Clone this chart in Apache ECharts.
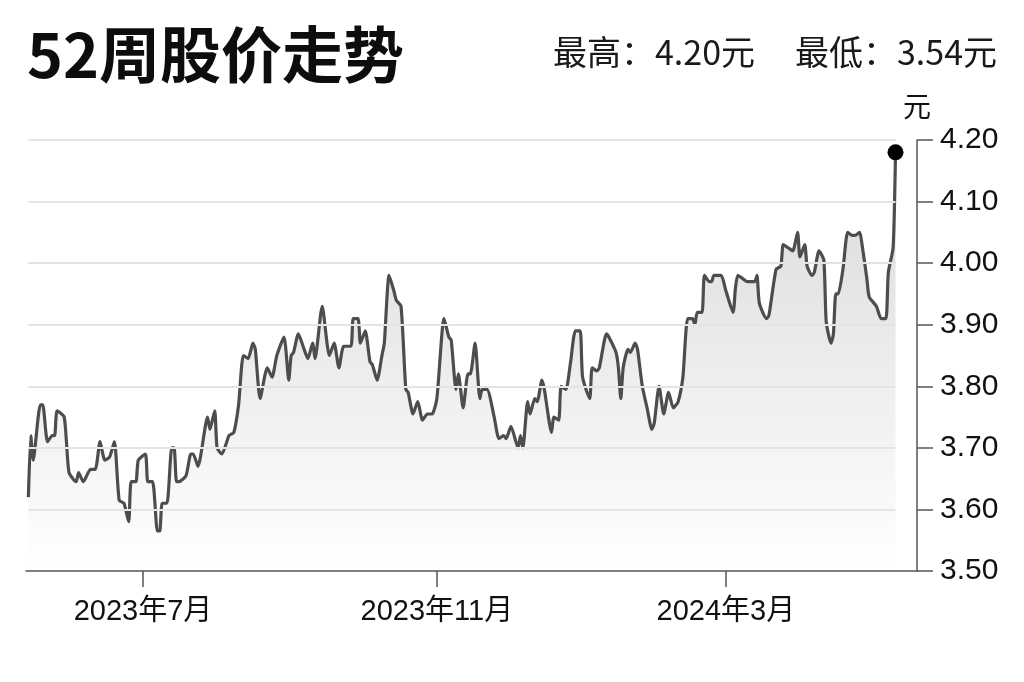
<!DOCTYPE html>
<html>
<head>
<meta charset="utf-8">
<title>52周股价走势</title>
<script src="https://cdn.jsdelivr.net/npm/echarts@6/dist/echarts.min.js"></script>
<style>
  html, body { margin: 0; padding: 0; background: #fff; }
  #chart { width: 1024px; height: 682px; }
</style>
</head>
<body>
<div id="chart"></div>
<script>
// 交易日
var dates = [
  '2023-05-14','2023-05-15','2023-05-16','2023-05-19','2023-05-20','2023-05-22','2023-05-24','2023-05-25','2023-05-26','2023-05-29',
  '2023-05-31','2023-06-03','2023-06-04','2023-06-06','2023-06-09','2023-06-11','2023-06-13','2023-06-15','2023-06-17','2023-06-19',
  '2023-06-21','2023-06-23','2023-06-25','2023-06-26','2023-06-28','2023-06-29','2023-07-02','2023-07-03','2023-07-05','2023-07-07',
  '2023-07-08','2023-07-09','2023-07-11','2023-07-13','2023-07-14','2023-07-15','2023-07-16','2023-07-19','2023-07-21','2023-07-22',
  '2023-07-24','2023-07-28','2023-07-29','2023-07-31','2023-08-01','2023-08-03','2023-08-06','2023-08-08','2023-08-10','2023-08-12',
  '2023-08-14','2023-08-16','2023-08-17','2023-08-19','2023-08-22','2023-08-24','2023-08-26','2023-08-29','2023-08-31','2023-09-01',
  '2023-09-02','2023-09-04','2023-09-06','2023-09-08','2023-09-10','2023-09-11','2023-09-14','2023-09-17','2023-09-19','2023-09-21',
  '2023-09-23','2023-09-26','2023-09-27','2023-09-29','2023-09-30','2023-10-02','2023-10-04','2023-10-05','2023-10-07','2023-10-09',
  '2023-10-10','2023-10-12','2023-10-14','2023-10-15','2023-10-17','2023-10-19','2023-10-20','2023-10-22','2023-10-24','2023-10-26',
  '2023-10-28','2023-10-30','2023-11-01','2023-11-04','2023-11-06','2023-11-07','2023-11-09','2023-11-10','2023-11-12','2023-11-14',
  '2023-11-15','2023-11-17','2023-11-19','2023-11-20','2023-11-22','2023-11-25','2023-11-27','2023-11-29','2023-11-30','2023-12-02',
  '2023-12-05','2023-12-06','2023-12-07','2023-12-09','2023-12-10','2023-12-12','2023-12-13','2023-12-15','2023-12-16','2023-12-19',
  '2023-12-20','2023-12-22','2023-12-23','2023-12-25','2023-12-27','2023-12-29','2023-12-31','2024-01-01','2024-01-04','2024-01-05',
  '2024-01-07','2024-01-08','2024-01-11','2024-01-12','2024-01-15','2024-01-16','2024-01-17','2024-01-18','2024-01-20','2024-01-21',
  '2024-01-23','2024-01-24','2024-01-26','2024-01-28','2024-01-30','2024-01-31','2024-02-02','2024-02-04','2024-02-06','2024-02-08',
  '2024-02-10','2024-02-12','2024-02-14','2024-02-16','2024-02-17','2024-02-18','2024-02-20','2024-02-21','2024-02-23','2024-02-24',
  '2024-02-25','2024-02-28','2024-03-01','2024-03-04','2024-03-05','2024-03-06','2024-03-08','2024-03-10','2024-03-13','2024-03-14',
  '2024-03-15','2024-03-18','2024-03-19','2024-03-22','2024-03-24','2024-03-25','2024-03-27','2024-03-29','2024-03-31','2024-04-01',
  '2024-04-03','2024-04-04','2024-04-06','2024-04-07','2024-04-09','2024-04-11','2024-04-12','2024-04-14','2024-04-15','2024-04-16',
  '2024-04-17','2024-04-19','2024-04-21','2024-04-23','2024-04-24','2024-04-26','2024-04-27','2024-04-29','2024-04-30','2024-05-03',
  '2024-05-05','2024-05-07','2024-05-08','2024-05-10','2024-05-11'
];

// 收盘价（元）
var prices = [
  3.62, 3.72, 3.68, 3.77, 3.77, 3.71, 3.72, 3.72, 3.76, 3.75,
  3.66, 3.645, 3.66, 3.645, 3.665, 3.665, 3.71, 3.68, 3.685, 3.71,
  3.615, 3.61, 3.58, 3.645, 3.645, 3.68, 3.69, 3.645, 3.645, 3.565,
  3.565, 3.61, 3.61, 3.70, 3.70, 3.645, 3.645, 3.655, 3.69, 3.69,
  3.67, 3.75, 3.73, 3.76, 3.70, 3.69, 3.72, 3.725, 3.77, 3.85,
  3.845, 3.87, 3.86, 3.78, 3.83, 3.815, 3.85, 3.88, 3.81, 3.85,
  3.855, 3.885, 3.865, 3.845, 3.87, 3.845, 3.93, 3.85, 3.87, 3.83,
  3.865, 3.865, 3.91, 3.91, 3.87, 3.89, 3.84, 3.835, 3.81, 3.85,
  3.87, 3.98, 3.955, 3.94, 3.93, 3.795, 3.79, 3.755, 3.775, 3.745,
  3.755, 3.755, 3.78, 3.91, 3.88, 3.875, 3.795, 3.82, 3.765, 3.82,
  3.82, 3.87, 3.78, 3.795, 3.795, 3.75, 3.715, 3.72, 3.715, 3.735,
  3.70, 3.72, 3.70, 3.775, 3.755, 3.78, 3.775, 3.81, 3.795, 3.725,
  3.75, 3.745, 3.80, 3.795, 3.84, 3.89, 3.89, 3.815, 3.78, 3.83,
  3.825, 3.83, 3.885, 3.88, 3.855, 3.83, 3.78, 3.83, 3.86, 3.855,
  3.87, 3.86, 3.80, 3.765, 3.73, 3.74, 3.80, 3.755, 3.79, 3.765,
  3.775, 3.815, 3.91, 3.91, 3.90, 3.92, 3.92, 3.98, 3.97, 3.97,
  3.98, 3.98, 3.955, 3.92, 3.96, 3.98, 3.975, 3.97, 3.97, 3.98,
  3.935, 3.91, 3.915, 3.99, 3.995, 4.03, 4.025, 4.02, 4.05, 4.01,
  4.03, 3.995, 3.98, 3.985, 4.02, 4.005, 3.905, 3.87, 3.885, 3.95,
  3.95, 3.99, 4.05, 4.045, 4.045, 4.05, 4.03, 3.975, 3.945, 3.93,
  3.91, 3.91, 3.985, 4.025, 4.18
];

var yTicks = [3.5, 3.6, 3.7, 3.8, 3.9, 4.0, 4.1, 4.2];
var monthTicks = ['2023-07-01', '2023-11-01', '2024-03-01'];
var axisRange = ['2023-05-13', '2024-05-20'];
var yearHigh = 4.20;
var yearLow = 3.54;

var latinFont = "'Liberation Sans', 'Noto Sans CJK SC', sans-serif";
var cjkFont = "'Noto Sans CJK SC', sans-serif";

// 日期转时间戳，x 轴用数值轴以便自定义刻度
function ts(s) { return echarts.time.parse(s).getTime(); }
var monthValues = monthTicks.map(ts);
var dayValues = dates.map(ts);
var lastIdx = dates.length - 1;

// 网格线只画到最后一个交易日
var gridLines = yTicks.slice(1).map(function (v) {
  return [{ coord: [dayValues[0], v] }, { coord: [dayValues[lastIdx], v] }];
});

var myChart = echarts.init(document.getElementById('chart'));
var option = {
  animation: false,
  backgroundColor: '#fff',
  title: [
    {
      text: '52周股价走势',
      left: 22,
      top: 18,
      textStyle: { fontFamily: cjkFont, fontSize: 61, fontWeight: 'bold', color: '#0d0d0d', lineHeight: 64 }
    },
    {
      text: '最高：' + yearHigh.toFixed(2) + '元',
      right: 264,
      top: 30,
      textStyle: { fontFamily: cjkFont, fontSize: 34, fontWeight: 'normal', color: '#1a1a1a' }
    },
    {
      text: '最低：' + yearLow.toFixed(2) + '元',
      right: 22,
      top: 30,
      textStyle: { fontFamily: cjkFont, fontSize: 34, fontWeight: 'normal', color: '#1a1a1a' }
    }
  ],
  grid: {
    left: 26,
    right: 107,
    top: 140,
    bottom: 111,
    outerBoundsMode: 'none'
  },
  xAxis: {
    type: 'value',
    min: ts(axisRange[0]),
    max: ts(axisRange[1]),
    splitLine: { show: false },
    axisLine: { lineStyle: { color: '#555', width: 1.5 } },
    axisTick: {
      show: true,
      length: 16,
      customValues: monthValues,
      lineStyle: { color: '#555', width: 1.5 }
    },
    axisLabel: {
      customValues: monthValues,
      margin: 26,
      fontSize: 29,
      fontFamily: latinFont,
      color: '#111',
      formatter: function (val) {
        var d = new Date(val);
        return d.getFullYear() + '年' + (d.getMonth() + 1) + '月';
      }
    }
  },
  yAxis: {
    type: 'value',
    position: 'right',
    min: yTicks[0],
    max: yTicks[yTicks.length - 1],
    interval: 0.1,
    name: '元',
    nameLocation: 'end',
    nameGap: 20,
    nameTextStyle: { fontFamily: cjkFont, fontSize: 28, color: '#111', align: 'center', verticalAlign: 'bottom' },
    splitLine: { show: false },
    axisLine: { show: true, lineStyle: { color: '#555', width: 1.5 } },
    axisTick: { show: true, length: 16, lineStyle: { color: '#555', width: 1.5 } },
    axisLabel: {
      margin: 23,
      fontSize: 30,
      fontFamily: latinFont,
      color: '#111',
      formatter: function (v) { return v.toFixed(2); }
    }
  },
  series: [
    {
      name: '股价',
      type: 'line',
      data: dayValues.map(function (t, i) { return [t, prices[i]]; }),
      showSymbol: false,
      smooth: 0.2,
      lineStyle: { color: '#4d4d4d', width: 3.2 },
      areaStyle: {
        color: new echarts.graphic.LinearGradient(0, 0, 0, 1, [
          { offset: 0, color: 'rgba(0,0,0,0.21)' },
          { offset: 1, color: 'rgba(0,0,0,0.0)' }
        ])
      },
      markLine: {
        silent: true,
        symbol: ['none', 'none'],
        label: { show: false },
        lineStyle: { color: '#e4e4e4', width: 2, type: 'solid' },
        emphasis: { disabled: true },
        data: gridLines
      }
    },
    {
      name: '最新',
      type: 'scatter',
      data: [[dayValues[lastIdx], prices[lastIdx]]],
      symbolSize: 16,
      itemStyle: { color: '#000', opacity: 1 },
      z: 5
    }
  ]
};
myChart.setOption(option);
</script>
</body>
</html>
